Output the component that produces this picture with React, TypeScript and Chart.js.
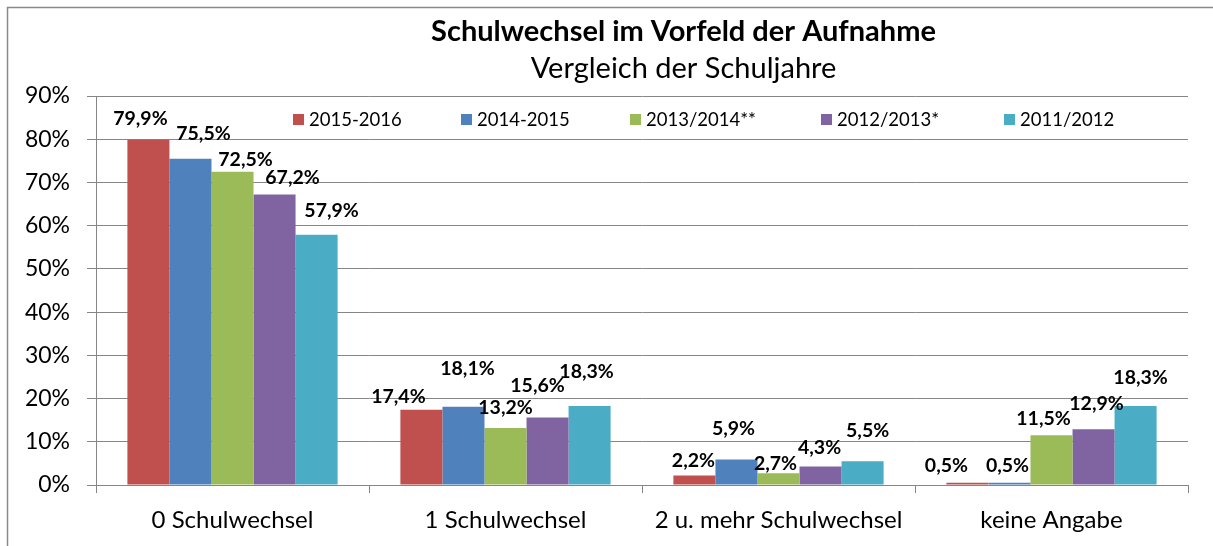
import React, { useEffect, useRef } from "react";
import { Chart, registerables } from "chart.js";

Chart.register(...registerables);

const titleText = "Schulwechsel im Vorfeld der Aufnahme";
const subtitleText = "Vergleich der Schuljahre";

const categories = ["0 Schulwechsel", "1 Schulwechsel", "2 u. mehr Schulwechsel", "keine Angabe"];
const seriesNames = ["2015-2016", "2014-2015", "2013/2014**", "2012/2013*", "2011/2012"];
const values2015_2016 = [79.9, 17.4, 2.2, 0.5];
const values2014_2015 = [75.5, 18.1, 5.9, 0.5];
const values2013_2014 = [72.5, 13.2, 2.7, 11.5];
const values2012_2013 = [67.2, 15.6, 4.3, 12.9];
const values2011_2012 = [57.9, 18.3, 5.5, 18.3];
const yTickValues = [0, 10, 20, 30, 40, 50, 60, 70, 80, 90];

const seriesColors = ["#C0504D", "#4F81BD", "#9BBB59", "#8064A2", "#4BACC6"];

// label placement relative to bar top (dx, dy above)
const labelShift = [
  [[-8, 21], [-23, 13], [-1, 15], [-21, 17]],
  [[13, 25], [4, 38], [-3, 31], [-2, 17]],
  [[13, 12], [0, 20], [-3, 10], [-8, 17]],
  [[18, 17], [-10, 32], [-1, 19], [3, 26]],
  [[15, 24], [-3, 34], [5, 31], [5, 28]],
];
const legendX = [293, 461, 630, 821, 1004];

const FONT = "Lato, 'Open Sans', sans-serif";
const GRID = "#868686";

const fmt = (v: number) => v.toFixed(1).replace(".", ",") + "%";

export default function App() {
  const ref = useRef<HTMLCanvasElement | null>(null);

  useEffect(() => {
    if (!ref.current) return;
    const allValues = [values2015_2016, values2014_2015, values2013_2014, values2012_2013, values2011_2012];

    const framePlugin = {
      id: "frame",
      beforeDraw(chart: any) {
        const ctx = chart.ctx;
        ctx.save();
        ctx.fillStyle = "#ffffff";
        ctx.fillRect(0, 0, chart.width, chart.height);
        ctx.strokeStyle = "#898989";
        ctx.lineWidth = 1.5;
        ctx.strokeRect(7.5, 7.5, chart.width + 50, chart.height + 50);
        ctx.restore();
      },
    };

    const titlePlugin = {
      id: "titles",
      afterDraw(chart: any) {
        const ctx = chart.ctx;
        ctx.save();
        ctx.fillStyle = "#000";
        ctx.textAlign = "center";
        ctx.textBaseline = "alphabetic";
        ctx.font = `bold 29px ${FONT}`;
        ctx.fillText(titleText, 683.5, 41);
        ctx.font = `29px ${FONT}`;
        ctx.fillText(subtitleText, 683.5, 78);
        ctx.restore();
      },
    };

    const legendPlugin = {
      id: "customLegend",
      afterDraw(chart: any) {
        const ctx = chart.ctx;
        ctx.save();
        ctx.font = `18.5px ${FONT}`;
        ctx.textBaseline = "middle";
        ctx.textAlign = "left";
        chart.data.datasets.forEach((ds: any, i: number) => {
          const x = legendX[i];
          ctx.fillStyle = ds.backgroundColor;
          ctx.fillRect(x, 114, 11, 11);
          ctx.fillStyle = "#000";
          ctx.fillText(ds.label, x + 16, 120);
        });
        ctx.restore();
      },
    };

    const labelPlugin = {
      id: "valueLabels",
      afterDatasetsDraw(chart: any) {
        const ctx = chart.ctx;
        ctx.save();
        ctx.font = `bold 19.5px ${FONT}`;
        ctx.fillStyle = "#000";
        ctx.textAlign = "center";
        ctx.textBaseline = "middle";
        chart.data.datasets.forEach((ds: any, i: number) => {
          const meta = chart.getDatasetMeta(i);
          meta.data.forEach((bar: any, j: number) => {
            const [dx, dy] = labelShift[i][j];
            ctx.fillText(fmt(ds.data[j]), bar.x + dx, bar.y - dy);
          });
        });
        ctx.restore();
      },
    };

    const chart = new Chart(ref.current, {
      type: "bar",
      data: {
        labels: categories,
        datasets: seriesNames.map((name, i) => ({
          label: name,
          data: allValues[i],
          backgroundColor: seriesColors[i],
          borderWidth: 0,
          categoryPercentage: 0.77,
          barPercentage: 1.0,
        })),
      },
      options: {
        animation: false,
        responsive: false,
        maintainAspectRatio: false,
        layout: { padding: { left: 0, top: 96, right: 25, bottom: 0 } },
        plugins: {
          legend: { display: false },
          title: { display: false },
          tooltip: { enabled: false },
        },
        scales: {
          x: {
            grid: {
              display: true,
              offset: true,
              drawOnChartArea: false,
              drawTicks: true,
              tickLength: 8,
              color: GRID,
            },
            border: { display: true, color: GRID, width: 1 },
            ticks: {
              color: "#000",
              font: { family: FONT, size: 24 },
              padding: 13,
            },
            afterFit(scale: any) {
              scale.height = 61;
            },
          },
          y: {
            min: 0,
            max: 90,
            afterBuildTicks(scale: any) {
              scale.ticks = yTickValues.map((v) => ({ value: v }));
            },
            grid: {
              color: GRID,
              lineWidth: 1,
              tickLength: 9,
              drawTicks: true,
            },
            border: { display: true, color: GRID, width: 1 },
            ticks: {
              color: "#000",
              font: { family: FONT, size: 23 },
              padding: 17,
              callback: (v: any) => `${v}%`,
            },
            afterFit(scale: any) {
              scale.width = 96;
            },
          },
        },
      },
      plugins: [framePlugin, titlePlugin, legendPlugin, labelPlugin],
    } as any);

    return () => chart.destroy();
  }, []);

  return (
    <div style={{ position: "absolute", left: 0, top: 0, width: 1213, height: 546 }}>
      <canvas ref={ref} width={1213} height={546} style={{ width: 1213, height: 546, display: "block" }} />
    </div>
  );
}
